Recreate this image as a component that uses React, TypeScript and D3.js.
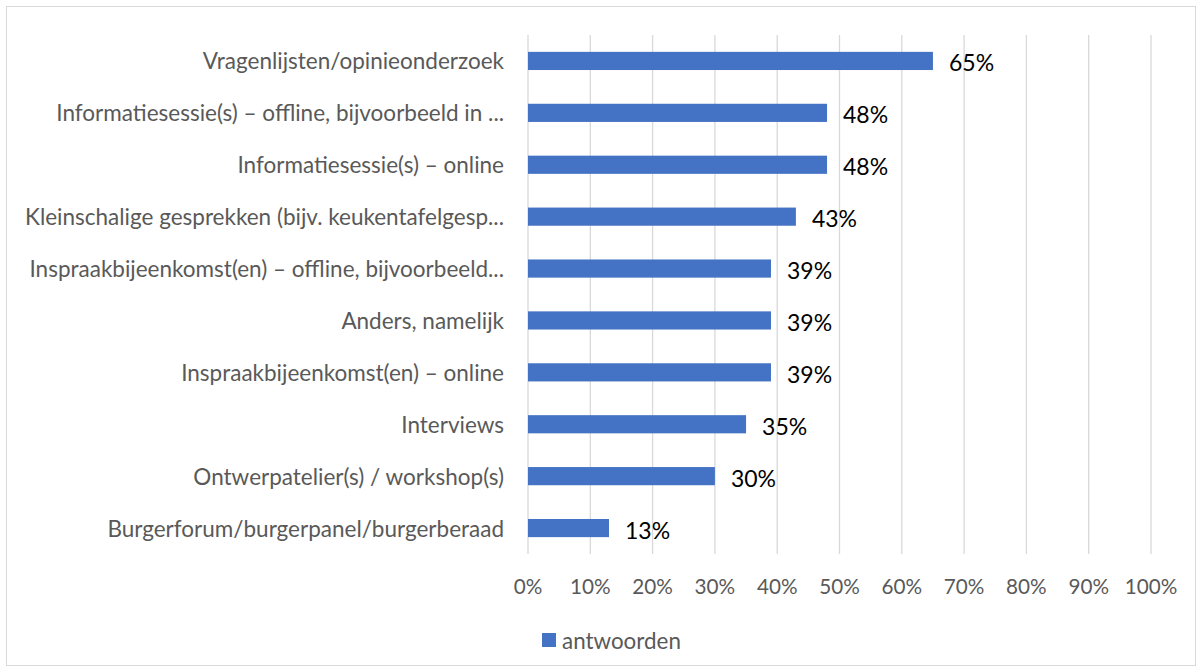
import React from "react";
import * as d3 from "d3";

const categories = [
  "Vragenlijsten/opinieonderzoek",
  "Informatiesessie(s) – offline, bijvoorbeeld in ...",
  "Informatiesessie(s) – online",
  "Kleinschalige gesprekken (bijv. keukentafelgesp...",
  "Inspraakbijeenkomst(en) – offline, bijvoorbeeld...",
  "Anders, namelijk",
  "Inspraakbijeenkomst(en) – online",
  "Interviews",
  "Ontwerpatelier(s) / workshop(s)",
  "Burgerforum/burgerpanel/burgerberaad",
];
const values = [65, 48, 48, 43, 39, 39, 39, 35, 30, 13];
const ticks = [0, 10, 20, 30, 40, 50, 60, 70, 80, 90, 100];
const seriesName = "antwoorden";

const W = 1202;
const H = 672;
const font = "Lato, 'Open Sans', sans-serif";

export default function App() {
  const x = d3.scaleLinear().domain([0, 100]).range([528, 1151]);
  const y = d3.scaleBand<string>().domain(categories).range([35, 554]).paddingInner(0.65).paddingOuter(0.325);
  return (
    <svg width={W} height={H} style={{ position: "absolute", left: 0, top: 0 }}>
      <rect x={0} y={0} width={W} height={H} fill="#fff" />
      <rect x={6.5} y={6.5} width={1189} height={659} fill="none" stroke="#d9d9d9" strokeWidth={1} />
      {ticks.map((t) => (
        <g key={t}>
          <line x1={x(t)} x2={x(t)} y1={35} y2={554} stroke="#d9d9d9" strokeWidth={1.3} />
          <text x={x(t)} y={586} textAnchor="middle" dominantBaseline="central" fontFamily={font} fontSize={20.7} fill="#595959">
            {t}%
          </text>
        </g>
      ))}
      {categories.map((c, i) => (
        <g key={c}>
          <rect x={x(0)} y={y(c)!} width={x(values[i]) - x(0)} height={y.bandwidth()} fill="#4472C4" />
          <text x={504} y={y(c)! + y.bandwidth() / 2} textAnchor="end" dominantBaseline="central" fontFamily={font} fontSize={22.5} fill="#595959">
            {c}
          </text>
          <text x={x(values[i]) + 16} y={y(c)! + y.bandwidth() / 2 + 1.5} dominantBaseline="central" fontFamily={font} fontSize={23} fill="#000">
            {values[i]}%
          </text>
        </g>
      ))}
      <rect x={542} y={633} width={14} height={14} fill="#4472C4" />
      <text x={562} y={640} dominantBaseline="central" fontFamily={font} fontSize={22.4} fill="#595959">
        {seriesName}
      </text>
    </svg>
  );
}
